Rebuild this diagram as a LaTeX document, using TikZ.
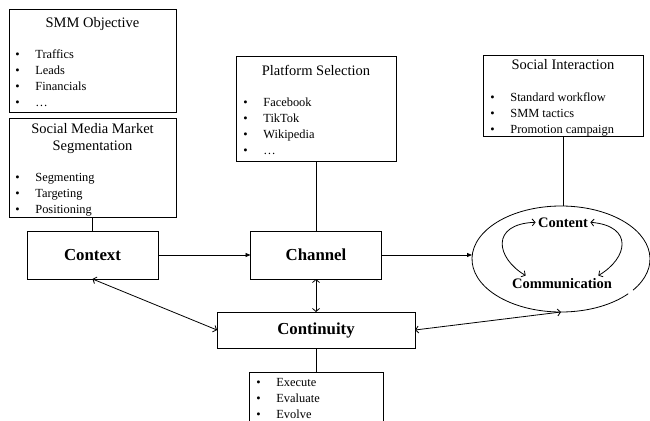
\documentclass[tikz,border=0pt]{standalone}
\usepackage{fontspec}
\setmainfont{Liberation Serif}
\usetikzlibrary{arrows.meta,shapes.geometric}
\newcommand{\bul}{\makebox[20pt][l]{\textbullet}}
\begin{document}
\begin{tikzpicture}[x=1pt,y=-1pt,line width=0.8pt,
  box/.style={draw,inner sep=0pt,outer sep=0pt},
  mainbox/.style={box,font=\fontsize{16.8}{20}\selectfont\bfseries},
  title/.style={anchor=base,align=center,inner sep=0pt,font=\fontsize{14.5}{17}\selectfont},
  items/.style={anchor=base west,align=left,inner sep=0pt,font=\fontsize{12.4}{15.8}\selectfont},
  loopword/.style={anchor=base,inner sep=2pt,font=\fontsize{14.5}{17}\selectfont\bfseries},
  flow/.style={-{Triangle[length=5pt,width=4pt]}},
  link/.style={{Straight Barb[length=3pt,width=7pt]}-{Straight Barb[length=3pt,width=7pt]}}]
  \useasboundingbox (0,0) rectangle (650,420);
  \node[box,minimum width=167pt,minimum height=103pt] (objbox) at (92.5,60.5) {};
  \node[title] (objtitle) at (92.5,28) {SMM Objective};
  \node[items] (objlist) at (15,106) {\bul Traffics\\\bul Leads\\\bul Financials\\\bul\dots};
  \node[box,minimum width=167pt,minimum height=99pt] (segbox) at (92.5,167.5) {};
  \node[title] (segtitle) at (92.5,150) {Social Media Market\\Segmentation};
  \node[items] (seglist) at (15,213) {\bul Segmenting\\\bul Targeting\\\bul Positioning};
  \node[box,minimum width=160pt,minimum height=105pt] (platbox) at (316,108.5) {};
  \node[title] (plattitle) at (316,75) {Platform Selection};
  \node[items] (platlist) at (243,154) {\bul Facebook\\\bul TikTok\\\bul Wikipedia\\\bul\dots};
  \node[box,minimum width=160pt,minimum height=81pt] (socbox) at (563,95.5) {};
  \node[title] (soctitle) at (563,70) {Social Interaction};
  \node[items] (soclist) at (490,133) {\bul Standard workflow\\\bul SMM tactics\\\bul Promotion campaign};
  \node[mainbox,minimum width=131pt,minimum height=48pt] (context) at (92.5,255) {Context};
  \node[mainbox,minimum width=131pt,minimum height=48pt] (channel) at (316,255) {Channel};
  \node[mainbox,minimum width=198pt,minimum height=36pt] (continuity) at (316,330) {Continuity};
  \node[box,minimum width=134pt,minimum height=52pt] (execbox) at (316,398) {};
  \node[items] (execlist) at (256,418) {\bul Execute\\\bul Evaluate\\\bul Evolve};
  \node[ellipse,minimum width=178pt,minimum height=106pt,inner sep=0pt,outer sep=0pt] (ring) at (561,259) {};
  \draw ([shift={(41:89 and 53)}]ring.center) arc[start angle=41,end angle=396,x radius=89,y radius=53];
  \node[loopword] (content) at (563,227) {Content};
  \node[loopword] (comm) at (562,288) {Communication};
  \draw[link] (content.west) .. controls (490,224) and (496,258) .. ([xshift=16pt]comm.north west);
  \draw[link] ([xshift=-16pt]comm.north east) .. controls (628,258) and (634,226) .. (content.east);
  \draw (segbox) -- (context);
  \draw (platbox) -- (channel);
  \draw (socbox.south) -- (socbox.south |- ring.north);
  \draw (continuity) -- (execbox);
  \draw[flow] (context) -- (channel);
  \draw[flow] (channel.east) -- (channel.east -| ring.west);
  \draw[link] (context.south) -- (continuity.west);
  \draw[link] (channel.south) -- (continuity.north);
  \draw[link] (continuity.east) -- (ring.south);
\end{tikzpicture}
\end{document}
